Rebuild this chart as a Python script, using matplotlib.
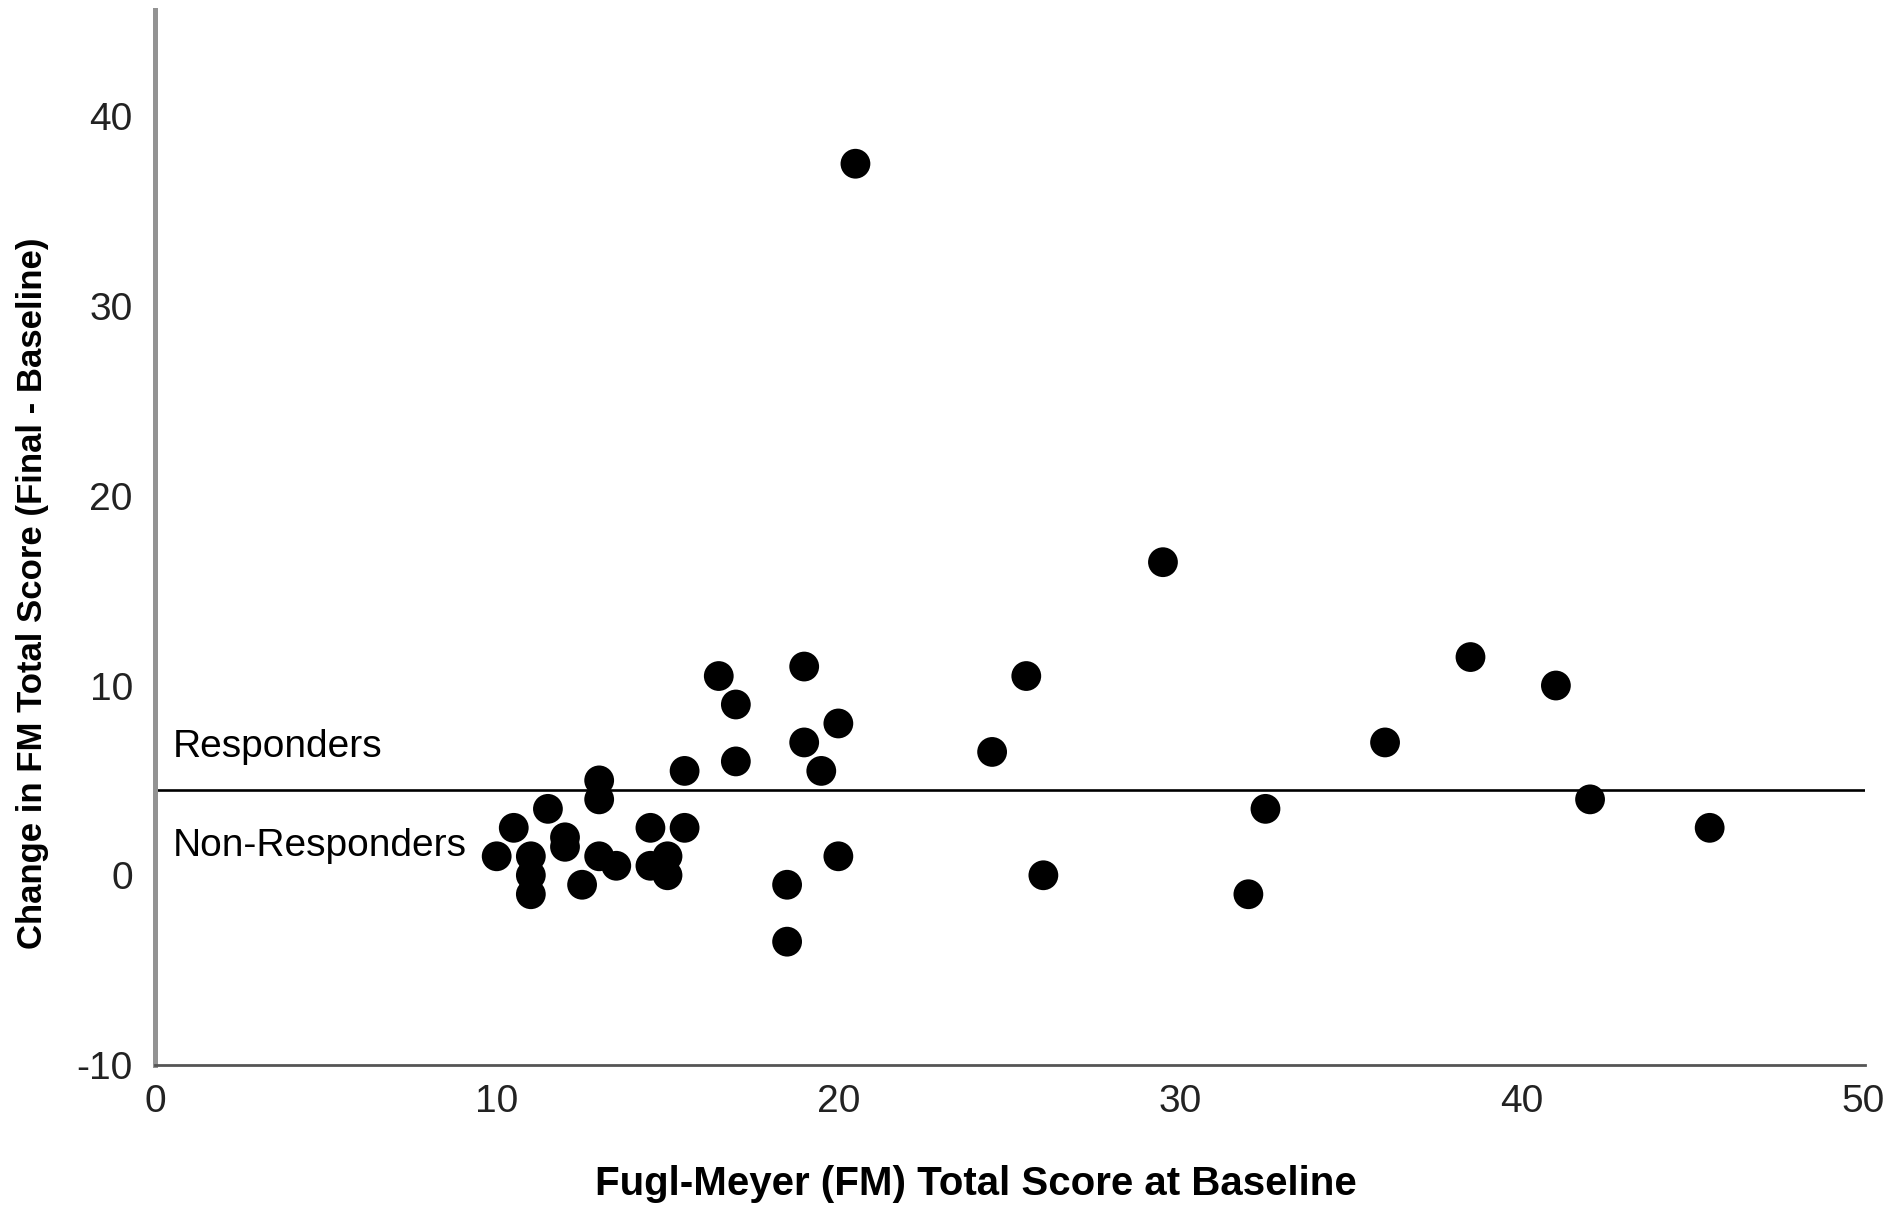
import matplotlib
matplotlib.use("Agg")
import matplotlib.pyplot as plt
from matplotlib import font_manager

# baseline FM score vs change in FM score
baseline_fm = [20.5, 29.5, 38.5, 41, 25.5, 24.5, 36, 32.5, 42, 45.5, 26, 32,
               19, 16.5, 17, 20, 19, 17, 19.5, 15.5, 13, 13, 11.5, 10.5, 10,
               12, 12, 11, 11, 11, 12.5, 13, 13.5, 14.5, 15.5, 14.5, 15, 15,
               18.5, 18.5, 20]
change_fm = [37.5, 16.5, 11.5, 10, 10.5, 6.5, 7, 3.5, 4, 2.5, 0, -1,
             11, 10.5, 9, 8, 7, 6, 5.5, 5.5, 5, 4, 3.5, 2.5, 1,
             2, 1.5, 1, 0, -1, -0.5, 1, 0.5, 2.5, 2.5, 0.5, 1, 0,
             -0.5, -3.5, 1]
responder_cut = 4.5
x_ticks = [0, 10, 20, 30, 40, 50]
y_ticks = [-10, 0, 10, 20, 30, 40]

installed = {f.name for f in font_manager.fontManager.ttflist}
narrow = "Liberation Sans Narrow" if "Liberation Sans Narrow" in installed else "Liberation Sans"

plt.rcParams['font.family'] = ['Liberation Sans', 'DejaVu Sans']
plt.rcParams['axes.unicode_minus'] = False

fig = plt.figure(figsize=(18.97, 12.09), dpi=100)
ax = fig.add_axes([0.0817, 0.1191, 0.9015, 0.8726])

ax.scatter(baseline_fm, change_fm, s=460, color='black', edgecolors='none', zorder=3)
ax.axhline(responder_cut, color='black', lw=1.9, zorder=2)

ax.set_xlim(0, 50.05)
ax.set_ylim(-10, 45.6)
ax.set_xticks(x_ticks)
ax.set_yticks(y_ticks)
ax.tick_params(axis='both', length=0, labelsize=28, colors='#222222')
ax.tick_params(axis='y', pad=16)
ax.tick_params(axis='x', pad=14)

for s in ['top', 'right']:
    ax.spines[s].set_visible(False)
ax.spines['left'].set_color('#939393')
ax.spines['left'].set_linewidth(3.6)
ax.spines['bottom'].set_color('#555555')
ax.spines['bottom'].set_linewidth(2.0)

ax.text(0.53, 6.24, 'Responders', fontsize=28, va='baseline', ha='left')
ax.text(0.53, 1.0, 'Non-Responders', fontsize=28, va='baseline', ha='left')

ax.set_xlabel('Fugl-Meyer (FM) Total Score at Baseline', family=[narrow, 'DejaVu Sans'],
              fontweight='bold', fontsize=29)
ax.set_ylabel('Change in FM Total Score (Final - Baseline)', family=[narrow, 'DejaVu Sans'],
              fontweight='bold', fontsize=25)
ax.xaxis.set_label_coords(0.48, -0.095)
ax.yaxis.set_label_coords(-0.062, 0.447)

fig.savefig('out.png', dpi=100, facecolor='white')
